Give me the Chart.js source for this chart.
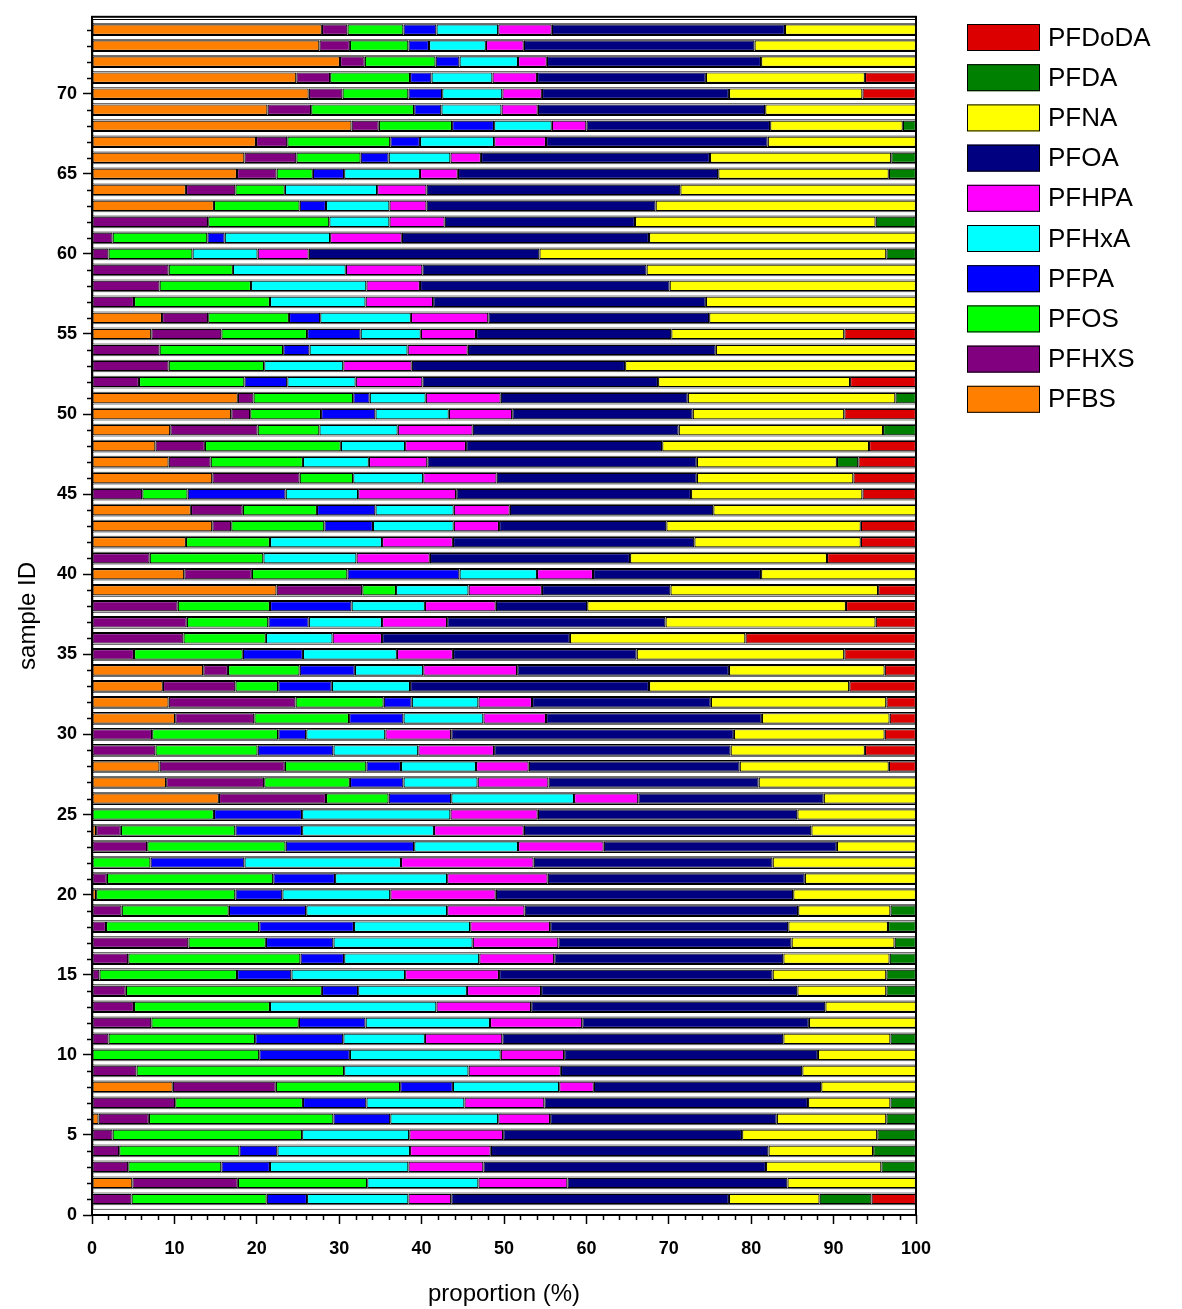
<!DOCTYPE html>
<html><head><meta charset="utf-8">
<script src="https://cdn.jsdelivr.net/npm/chart.js@4.4.0/dist/chart.umd.min.js"></script>
<style>html,body{margin:0;padding:0;background:#fff}#wrap{width:1182px;height:1309px;position:relative}</style>
</head><body><div id="wrap"><canvas id="c"></canvas></div>
<script>
const sampleIds = [1,2,3,4,5,6,7,8,9,10,11,12,13,14,15,16,17,18,19,20,21,22,23,24,25,26,27,28,29,30,31,32,33,34,35,36,37,38,39,40,41,42,43,44,45,46,47,48,49,50,51,52,53,54,55,56,57,58,59,60,61,62,63,64,65,66,67,68,69,70,71,72,73,74];
const yTickLabels = [0,5,10,15,20,25,30,35,40,45,50,55,60,65,70];
const xTickLabels = [0,10,20,30,40,50,60,70,80,90,100];

const PFBS = [0,4.9,0,0,0,0.8,0,9.8,0,0, 0,0,0,0,0,0,0,0,0,0.5, 0,0,0,0.5,0,15.4,9.0,8.2,0,0, 10.1,9.3,8.6,13.5,0,0,0,0,22.4,11.2, 0,11.4,14.6,12.0,0,14.6,9.3,7.7,9.5,16.9, 17.7,0,0,0,7.2,8.5,0,0,0,0, 0,0,14.8,11.4,17.6,18.5,19.9,31.5,21.3,26.3, 24.8,30.1,27.6,27.9];
const PFHXS = [4.8,12.8,4.4,3.3,2.5,6.1,10.1,12.5,5.4,0, 2.0,7.2,5.1,4.1,0.9,4.4,11.7,1.7,3.6,0, 1.8,0,6.7,3.0,0,13.0,11.9,15.2,7.7,7.3, 9.6,15.4,8.8,3.0,5.1,11.1,11.5,10.4,10.4,8.2, 7.0,0,2.3,6.3,6.1,10.6,5.1,6.0,10.6,2.3, 1.9,5.7,9.3,8.2,8.5,5.6,5.1,8.2,9.3,2.0, 2.5,14.1,0,6.0,4.8,6.3,3.8,3.3,5.3,4.1, 4.1,3.0,3.7,3.1];
const PFOS = [16.4,15.7,11.3,14.6,23.0,22.4,15.5,15.1,25.2,20.3, 17.8,17.9,16.5,23.8,16.7,20.9,9.4,18.6,13.0,16.9, 20.2,7.1,16.8,13.9,14.8,7.6,10.4,9.9,12.4,15.3, 11.5,10.7,5.2,8.7,13.2,10.0,9.9,11.2,4.1,11.6, 13.8,10.2,11.3,9.0,5.5,6.5,11.2,16.5,7.5,8.6, 12.1,12.8,11.6,15.0,10.4,9.8,16.5,11.1,7.8,10.2, 11.5,14.7,10.4,6.0,4.4,7.8,12.5,8.9,12.5,8.0, 9.7,8.6,7.1,6.8];
const PFPA = [4.9,0,5.9,4.6,0,6.9,7.7,6.4,0,11.0, 10.7,8.1,0,4.4,6.6,5.3,8.2,11.5,9.4,5.7, 7.5,11.4,15.6,8.1,10.7,7.6,6.5,4.2,9.2,3.4, 6.6,3.4,6.5,6.7,7.3,0,4.9,9.9,0,13.6, 0,0,5.9,7.1,11.9,0,0,0,0,6.6, 2.0,5.2,0,3.2,6.5,3.8,0,0,0,0, 2.1,0,3.2,0,3.8,3.4,3.6,5.1,3.3,4.1, 2.6,2.9,2.5,4.0];
const PFHxA = [12.3,13.5,16.8,16.1,13.0,13.1,11.9,12.9,15.1,18.3, 9.9,15.1,20.2,13.2,13.8,16.4,16.9,14.1,17.1,13.1, 13.6,19.0,12.6,16.0,18.0,14.9,9.0,9.1,10.3,9.6, 9.7,8.1,9.5,8.3,11.4,8.1,8.9,8.9,8.8,9.4, 11.3,13.6,9.8,9.5,8.8,8.5,8.0,7.8,9.5,8.9, 6.8,8.3,9.6,11.9,7.3,11.0,11.6,14.0,13.7,7.9, 12.8,7.3,7.7,11.2,9.2,7.5,9.0,7.0,7.3,7.3, 7.4,7.1,6.9,7.5];
const PFHPA = [5.2,10.8,9.1,9.8,11.4,6.3,9.7,4.2,11.2,7.7, 9.4,11.2,11.5,9.0,11.4,9.1,10.4,9.7,9.4,12.8, 12.2,16.1,10.4,10.9,10.6,7.8,8.6,6.4,9.2,8.0, 7.6,6.5,0,11.4,6.8,6.0,7.9,8.6,8.9,6.8, 8.9,8.6,5.5,6.8,11.9,8.9,7.1,7.4,9.1,7.7, 9.1,8.1,8.3,7.3,6.7,9.4,8.2,6.5,9.3,6.2, 8.7,6.7,4.5,6.0,4.6,3.7,6.3,4.2,4.4,4.8, 5.4,3.5,4.6,6.5];
const PFOA = [33.7,26.7,34.3,33.7,29.0,27.5,32.0,27.6,29.3,30.8, 34.1,27.5,35.7,31.1,33.2,27.8,28.3,28.9,33.2,36.1, 31.2,29.0,28.3,34.9,31.5,22.5,25.5,25.6,28.7,34.3, 26.2,21.7,29.0,25.7,22.3,22.8,26.5,11.1,15.6,20.4, 24.3,29.3,20.3,24.7,28.5,24.3,32.7,23.8,25.0,21.9, 22.7,28.6,25.9,30.1,23.7,26.8,33.1,30.3,27.2,28.0, 30.0,23.1,27.8,30.8,31.6,27.8,26.9,22.3,27.6,22.7, 20.5,26.0,28.0,28.3];
const PFNA = [11.0,15.6,14.0,12.7,16.4,13.3,10.0,11.5,13.8,11.9, 13.0,13.0,11.0,10.8,13.8,12.9,12.5,12.1,11.2,14.9, 13.5,17.4,9.6,12.7,14.4,11.2,19.1,18.1,16.3,18.3, 15.5,21.3,24.3,18.9,25.2,21.3,25.5,31.4,25.2,18.8, 23.9,20.2,23.6,24.6,20.8,19.0,17.0,25.1,24.8,18.4, 25.2,23.3,35.3,24.3,21.0,25.1,25.5,29.9,32.7,42.1, 32.4,29.2,31.6,28.6,20.7,22.0,18.0,16.1,18.3,16.2, 19.3,18.8,19.6,15.9];
const PFDA = [6.3,0,4.2,5.2,4.7,3.6,3.1,0,0,0, 3.1,0,0,3.6,3.6,3.2,2.6,3.4,3.1,0, 0,0,0,0,0,0,0,0,0,0, 0,0,0,0,0,0,0,0,0,0, 0,0,0,0,0,0,2.6,0,4.0,0, 2.5,0,0,0,0,0,0,0,0,3.6, 0,4.9,0,0,3.3,3.0,0,1.6,0,0, 0,0,0,0];
const PFDoDA = [5.4,0,0,0,0,0,0,0,0,0, 0,0,0,0,0,0,0,0,0,0, 0,0,0,0,0,0,0,3.3,6.2,3.8, 3.2,3.6,8.1,3.8,8.7,20.7,4.9,8.5,4.6,0, 10.8,6.7,6.7,0,6.5,7.6,7.0,5.7,0,8.7, 0,8.0,0,0,8.7,0,0,0,0,0, 0,0,0,0,0,0,0,0,0,6.5, 6.2,0,0,0];

const seriesNames = ['PFBS','PFHXS','PFOS','PFPA','PFHxA','PFHPA','PFOA','PFNA','PFDA','PFDoDA'];
const seriesValues = [PFBS,PFHXS,PFOS,PFPA,PFHxA,PFHPA,PFOA,PFNA,PFDA,PFDoDA];
const seriesColors = ['#ff8000','#800080','#00ff00','#0000ff','#00ffff','#ff00ff','#000080','#ffff00','#008000','#dc0000'];

const FONT = 'Arial, "Liberation Sans", Helvetica, sans-serif';
Chart.defaults.font.family = FONT;
Chart.defaults.color = '#000';

const datasets = seriesNames.map((name, i) => ({
  label: name,
  data: sampleIds.map((s, j) => ({ y: s, x: seriesValues[i][j] > 0 ? seriesValues[i][j] : null })),
  backgroundColor: seriesColors[i],
  borderColor: '#000',
  borderWidth: 1.2,
  borderSkipped: false,
  stack: 'samples',
  grouped: false,
  barPercentage: 1.32,
  categoryPercentage: 1
}));
// white separator rows between samples
const gapRows = [0.5].concat(sampleIds.map(s => s + 0.5));
datasets.push({
  label: '_gap',
  data: gapRows.map(r => ({ y: r, x: 100 })),
  backgroundColor: '#ffffff',
  borderColor: '#000',
  borderWidth: 1,
  borderSkipped: false,
  stack: 'gap',
  grouped: false,
  barPercentage: 0.66,
  categoryPercentage: 1
});

const legendPlugin = {
  id: 'sideLegend',
  afterDraw(chart) {
    const ctx = chart.ctx;
    ctx.save();
    ctx.font = '26px ' + FONT;
    ctx.textBaseline = 'middle';
    ctx.textAlign = 'left';
    const order = seriesNames.slice().reverse();
    order.forEach((name, k) => {
      const i = seriesNames.indexOf(name);
      const y = 24 + k * 40.2;
      ctx.fillStyle = seriesColors[i];
      ctx.fillRect(967, y, 73, 27);
      ctx.strokeStyle = '#000';
      ctx.lineWidth = 1;
      ctx.strokeRect(967.5, y + 0.5, 72, 26);
      ctx.fillStyle = '#000';
      ctx.fillText(name, 1048, y + 14.5);
    });
    ctx.restore();
  }
};

const framePlugin = {
  id: 'frame',
  afterDatasetsDraw(chart) {
    const {ctx, chartArea: a, scales} = chart;
    ctx.save();
    ctx.strokeStyle = '#000';
    ctx.lineWidth = 2;
    ctx.strokeRect(a.left, a.top, a.right - a.left, a.bottom - a.top);
    // minor ticks
    ctx.lineWidth = 1.5;
    ctx.beginPath();
    for (let v = 0; v <= 100; v += 2) {
      if (v % 10 === 0) continue;
      const px = Math.round(scales.x.getPixelForValue(v)) + 0.5;
      ctx.moveTo(px, a.bottom); ctx.lineTo(px, a.bottom + 5);
    }
    for (let v = 0; v <= 74; v += 1) {
      if (v % 5 === 0) continue;
      const py = Math.round(scales.y.getPixelForValue(v)) + 0.5;
      ctx.moveTo(a.left, py); ctx.lineTo(a.left - 5, py);
    }
    ctx.stroke();
    ctx.restore();
  }
};

new Chart(document.getElementById('c'), {
  type: 'bar',
  data: { datasets },
  plugins: [framePlugin, legendPlugin],
  options: {
    indexAxis: 'y',
    responsive: true,
    maintainAspectRatio: false,
    animation: false,
    layout: { padding: { left: 0, top: 15, right: 266, bottom: 0 } },
    plugins: { legend: { display: false }, tooltip: { enabled: false } },
    scales: {
      x: {
        type: 'linear', min: 0, max: 100, stacked: true, offset: false,
        afterFit(scale) { scale.height = 94; },
        grid: { offset: false, drawOnChartArea: false, drawTicks: true, tickLength: 9, tickColor: '#000', tickWidth: 1.5 },
        border: { display: false },
        ticks: { stepSize: 10, padding: 14, font: { size: 18, weight: 'bold' }, color: '#000',
          callback: (v) => xTickLabels.includes(v) ? String(v) : '' },
        title: { display: true, text: 'proportion (%)', font: { size: 24 }, color: '#000', padding: { top: 0, bottom: 0 } }
      },
      y: {
        type: 'linear', min: 0, max: 74.8, offset: false,
        afterFit(scale) { scale.width = 92; },
        grid: { offset: false, drawOnChartArea: false, drawTicks: true, tickLength: 9, tickColor: '#000', tickWidth: 1.5 },
        border: { display: false },
        ticks: { stepSize: 5, includeBounds: false, padding: 6, font: { size: 18, weight: 'bold' }, color: '#000',
          callback: (v) => yTickLabels.includes(v) ? String(v) : '' },
        title: { display: true, text: 'sample ID', font: { size: 24 }, color: '#000', padding: { top: 14, bottom: 0 } }
      }
    }
  }
});
</script></body></html>
